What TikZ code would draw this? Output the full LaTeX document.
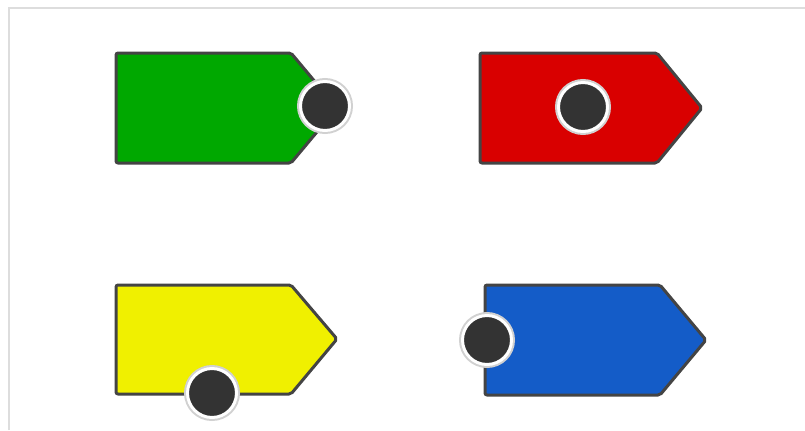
\documentclass[tikz,border=0pt]{standalone}
\usepackage{tikz}
\usetikzlibrary{positioning}
\usepackage{xcolor}

\definecolor{tagborder}{HTML}{444444}
\definecolor{holefill}{HTML}{333333}
\definecolor{framegray}{HTML}{DDDDDD}
\definecolor{taggreen}{HTML}{00A800}
\definecolor{tagred}{HTML}{D90000}
\definecolor{tagyellow}{HTML}{F0F000}
\definecolor{tagblue}{HTML}{145CC8}

\begin{document}
\begin{tikzpicture}[
        x=0.02cm, y=-0.02cm,
        % the outline of each price tag
        tagbox/.style={draw=tagborder, line width=0.06cm, rounded corners=0.04cm, line join=round},
        % the punched hole with its white ring
        hole/.style={circle, fill=holefill, draw=white, line width=0.06cm, minimum size=0.98cm, inner sep=0pt,
            preaction={draw=black!18, line width=0.14cm}},
        frame/.style={draw=framegray, line width=0.05cm}
    ]

    \useasboundingbox (0,0) rectangle (805,430);

    % --- THE FRAME ---
    \draw [frame] (9,430) -- (9,8) -- (805,8);

    % --- THE TAGS ---
    \draw [tagbox, fill=taggreen]  (116,53) -- (291,53) -- (337,108) -- (291,163) -- (116,163) -- cycle;
    \draw [tagbox, fill=tagred]    (480,53) -- (657,53) -- (702,108) -- (657,163) -- (480,163) -- cycle;
    \draw [tagbox, fill=tagyellow] (116,285) -- (291,285) -- (337,339) -- (291,394) -- (116,394) -- cycle;
    \draw [tagbox, fill=tagblue]   (485,285) -- (660,285) -- (706,340) -- (660,395) -- (485,395) -- cycle;

    % --- THE HOLES ---
    \node (greenhole)  [hole] at (325,106) {};
    \node (redhole)    [hole] at (583,107) {};
    \node (yellowhole) [hole] at (212,393) {};
    \node (bluehole)   [hole] at (487,340) {};

\end{tikzpicture}
\end{document}
